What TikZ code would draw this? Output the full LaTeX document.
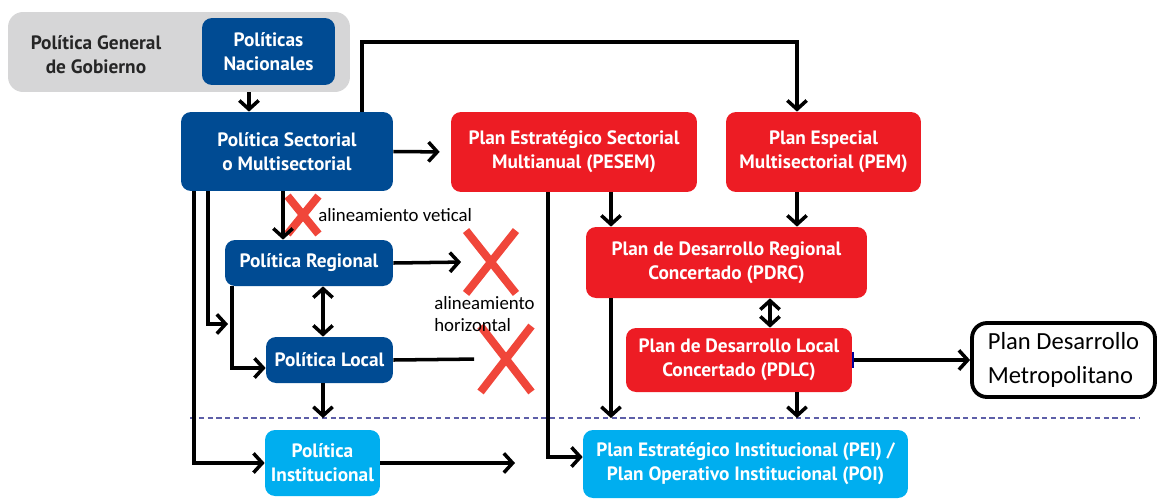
\documentclass[tikz,border=0pt]{standalone}
\usepackage{fontspec}
\newfontfamily\boxfont{PT Sans}
\newfontfamily\notefont{Carlito}
\usetikzlibrary{arrows.meta}
\usetikzlibrary{shapes.misc}
\definecolor{polblue}{HTML}{004B93}
\definecolor{planred}{HTML}{ED1C24}
\definecolor{instblue}{HTML}{00AEEF}
\definecolor{govgray}{HTML}{D6D6D7}
\definecolor{xred}{HTML}{F0463A}
\definecolor{lineblue}{HTML}{5D5FA8}

\begin{document}
\begin{tikzpicture}[x=0.02cm,y=-0.02cm,
  box/.style={rounded corners=0.2cm,inner sep=0pt,align=center,text=white,
    font=\boxfont\bfseries\fontsize{11}{13.5}\selectfont},
  pol/.style={box,fill=polblue},
  plan/.style={box,fill=planred},
  instbox/.style={box,fill=instblue},
  arr/.style={line width=2pt,-{Straight Barb[length=5pt,width=11pt]}},
  twoway/.style={line width=2pt,{Straight Barb[length=5pt,width=11pt]}-{Straight Barb[length=5pt,width=11pt]}},
  cross/.style={cross out,draw=xred,line width=4.5pt,inner sep=0pt},
  note/.style={font=\notefont\fontsize{10.7}{12.5}\selectfont,inner sep=0pt}]
\useasboundingbox (0,0) rectangle (1164,498);
\node[fill=govgray,rounded corners=0.3cm,minimum width=6.84cm,minimum height=1.6cm] (pgg) at (179,52) {};
\node[font=\boxfont\bfseries\fontsize{11}{13.5}\selectfont,align=center,text=black!85] (pggtext) at (96,55) {Política General\\de Gobierno};
\node[pol,minimum width=2.66cm,minimum height=1.34cm] (pn) at (268.5,51.5) {Políticas\\Nacionales};
\node[pol,minimum width=4.24cm,minimum height=1.58cm] (sect) at (287,151.5) {Política Sectorial\\o Multisectorial};
\node[plan,minimum width=4.92cm,minimum height=1.6cm] (pesem) at (574,152) {Plan Estratégico Sectorial\\Multianual (PESEM)};
\node[plan,minimum width=3.9cm,minimum height=1.6cm] (pem) at (823.5,152) {Plan Especial\\Multisectorial (PEM)};
\node[plan,minimum width=5.62cm,minimum height=1.42cm] (pdrc) at (726.5,262.5) {Plan de Desarrollo Regional\\Concertado (PDRC)};
\node[plan,minimum width=4.52cm,minimum height=1.28cm] (pdlc) at (739,360) {Plan de Desarrollo Local\\Concertado (PDLC)};
\node[draw,line width=2.2pt,rounded corners=0.3cm,minimum width=3.66cm,minimum height=1.48cm,align=left,
  font=\notefont\fontsize{14}{19}\selectfont] (metro) at (1063.5,360) {Plan Desarrollo\\Metropolitano};
\node[pol,minimum width=3.36cm,minimum height=0.92cm] (reg) at (309,263) {Política Regional};
\node[pol,minimum width=2.54cm,minimum height=0.92cm] (loc) at (329.5,360) {Política Local};
\node[instbox,minimum width=2.3cm,minimum height=1.32cm] (pinst) at (322.5,463) {Política\\Institucional};
\node[instbox,minimum width=6.5cm,minimum height=1.36cm] (pei) at (745.5,464) {Plan Estratégico Institucional (PEI) /\\Plan Operativo Institucional (POI)};
\node[cross,minimum width=0.46cm,minimum height=0.6cm] (xv) at (303,215) {};
\node[cross,minimum width=0.84cm,minimum height=1.1cm] (xreg) at (491,262) {};
\node[cross,minimum width=0.86cm,minimum height=1.16cm] (xloc) at (506,359) {};
\node[note,anchor=west] (vnote) at (318,215) {alineamiento vetical};
\node[note,anchor=west,align=left] (hnote) at (434,314) {alineamiento\\horizontal};
\coordinate (top) at (362,42);
\coordinate (dl) at (190,418);
\coordinate (dr) at (1140,418);
\coordinate (jr) at (228,324);
\coordinate (pend) at (515,463);
\foreach \n/\x in {ca/249,cc/283,cd/208,ce/194,cf/232,cg/323,ch/548,ci/611,cj/797,ck/770}
  \coordinate (\n) at (\x,0);
\draw[lineblue,line width=1pt,dash pattern=on 3pt off 2pt] (dl) -- (dr);
\draw[arr] (pgg.south -| ca) -- (sect.north -| ca);
\draw[arr] (sect.north -| top) -- (top) -| (pem.north -| cj);
\draw[arr,shorten >=0.22cm] (sect.east) -- (pesem.west);
\draw[arr] (sect.south -| cc) -- (reg.north -| cc);
\draw[arr] (sect.south -| cd) |- (jr);
\draw[arr] (sect.south -| ce) |- (pinst.west);
\draw[arr] (reg.south -| cf) |- ([yshift=-0.16cm]loc.west);
\draw[arr,shorten >=0.1cm] (reg.east) -- (xreg.west);
\draw[line width=2pt,shorten >=0.13cm] (loc.east) -- (xloc.west);
\draw[twoway] (reg.south -| cg) -- (loc.north -| cg);
\draw[arr] (loc.south -| cg) -- (cg |- dl);
\draw[arr] (pinst.east) -- (pend);
\draw[arr] (pesem.south -| ch) |- ([yshift=0.14cm]pei.west);
\draw[arr] (pesem.south -| ci) -- (pdrc.north -| ci);
\draw[arr] (pem.south -| cj) -- (pdrc.north -| cj);
\draw[arr] (pdrc.south -| ci) -- (ci |- dl);
\draw[twoway] (pdrc.south -| ck) -- (pdlc.north -| ck);
\draw[arr] (pdlc.south -| cj) -- (cj |- dl);
\draw[line width=2pt,{Bar[width=9pt,line width=1pt,blue!60!black]}-{Straight Barb[length=5pt,width=11pt]}] (pdlc.east) -- (metro.west);
\end{tikzpicture}
\end{document}
